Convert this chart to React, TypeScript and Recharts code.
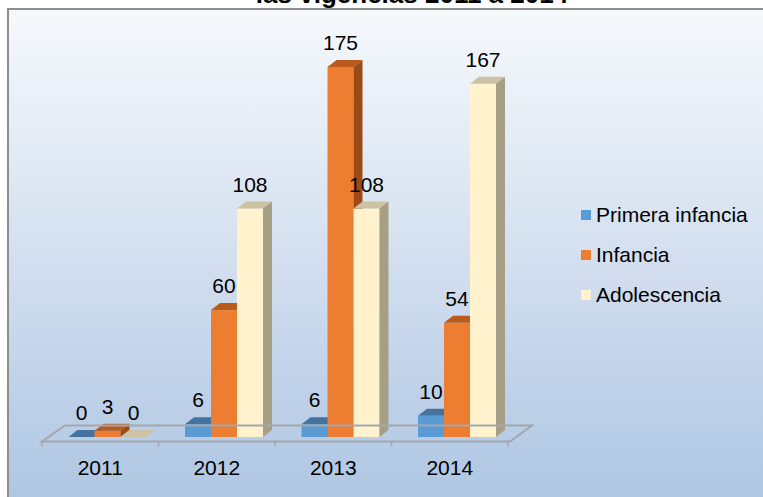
import React from "react";
import {
  BarChart,
  Bar,
  XAxis,
  YAxis,
  LabelList,
  Legend,
  ReferenceLine,
} from "recharts";

const categories = ["2011", "2012", "2013", "2014"];
const primeraInfancia = [0, 6, 6, 10];
const infancia = [3, 60, 175, 54];
const adolescencia = [0, 108, 108, 167];
const seriesNames = ["Primera infancia", "Infancia", "Adolescencia"];

const data = categories.map((year, i) => ({
  year,
  primera: primeraInfancia[i],
  infancia: infancia[i],
  adolescencia: adolescencia[i],
}));

const FONT = "'Liberation Sans', Arial, sans-serif";
const FONT_SIZE = 21;

// front / top / side colours of each 3D bar
const COLORS = {
  primera: { front: "#5B9BD5", top: "#44739F", side: "#3D6990" },
  infancia: { front: "#ED7D31", top: "#BB5A1D", side: "#9C4A18" },
  adolescencia: { front: "#FFF2CC", top: "#CCC3A4", side: "#A69F86" },
};

const SHIFT = 7.5; // perspective offset of the bars on the floor
const DX = 9;
const DY = 7;

const make3DBar = (c: { front: string; top: string; side: string }) => (props: any) => {
  const { x, y, width, height } = props;
  if (x == null || y == null) return <g />;
  const x0 = x + SHIFT;
  const h = Math.max(0, height);
  return (
    <g>
      <rect x={x0} y={y} width={width} height={h} fill={c.front} />
      <polygon
        points={`${x0},${y} ${x0 + DX},${y - DY} ${x0 + width + DX},${y - DY} ${x0 + width},${y}`}
        fill={c.top}
      />
      <polygon
        points={`${x0 + width},${y} ${x0 + width + DX},${y - DY} ${x0 + width + DX},${y + h - DY} ${x0 + width},${y + h}`}
        fill={c.side}
      />
    </g>
  );
};

const ValueLabel = (props: any) => {
  const { x, y, width, value } = props;
  return (
    <text
      x={x + SHIFT + width / 2}
      y={y - 17}
      textAnchor="middle"
      fontSize={FONT_SIZE}
      fontFamily={FONT}
      fill="#000"
    >
      {value}
    </text>
  );
};

const Floor = (props: any) => {
  const { x1, y1, x2 } = props;
  const front = y1 + 4.5;
  const back = front - 16;
  const left = x1;
  const right = x2 + 2;
  const step = (x2 - x1) / categories.length;
  const ticks = Array.from({ length: categories.length + 1 }, (_, i) => x1 + i * step);
  return (
    <g>
      <polygon
        points={`${left},${front} ${left + 23},${back} ${right + 22},${back} ${right},${front}`}
        fill="none"
        stroke="#A3A7AD"
        strokeWidth={2}
      />
      {ticks.map((t, i) => (
        <line key={i} x1={t} y1={front} x2={t} y2={front + 5} stroke="#A3A7AD" strokeWidth={1.5} />
      ))}
    </g>
  );
};

const YearTick = (props: any) => {
  const { x, y, payload } = props;
  return (
    <text x={x} y={y + 38} textAnchor="middle" fontSize={FONT_SIZE} fontFamily={FONT} fill="#000">
      {payload.value}
    </text>
  );
};

const LegendContent = () => {
  const swatches = [COLORS.primera.front, COLORS.infancia.front, COLORS.adolescencia.front];
  return (
    <div style={{ fontFamily: FONT, fontSize: FONT_SIZE, color: "#000", textAlign: "left" }}>
      {seriesNames.map((name, i) => (
        <div key={name} style={{ height: 40, display: "flex", alignItems: "center" }}>
          <span
            style={{ width: 10, height: 10, background: swatches[i], marginRight: 5, display: "inline-block" }}
          />
          <span>{name}</span>
        </div>
      ))}
    </div>
  );
};

export default function App() {
  return (
    <div style={{ position: "absolute", left: 0, top: 0, width: 763, height: 497, overflow: "hidden" }}>
      {/* chart area background */}
      <div
        style={{
          position: "absolute",
          left: 7,
          top: 8,
          width: 770,
          height: 500,
          borderLeft: "2px solid #8E8E8E",
          borderTop: "2px solid #8E8E8E",
          background: "linear-gradient(to bottom, #F6F9FC 0%, #D3DFEF 50%, #ADC5E2 100%)",
        }}
      />
      <div
        style={{
          position: "absolute",
          left: 0,
          width: 824,
          top: -21,
          textAlign: "center",
          fontFamily: FONT,
          fontWeight: "bold",
          fontSize: 26,
          lineHeight: "30px",
          color: "#000",
        }}
      >
        las vigencias 2011 a 2014
      </div>
      <div style={{ position: "absolute", left: 0, top: 0 }}>
        <BarChart
          width={763}
          height={497}
          data={data}
          margin={{ top: 14, right: 255, bottom: 30, left: 42 }}
          barSize={26}
          barGap={0}
        >
          <XAxis
            dataKey="year"
            axisLine={false}
            tickLine={false}
            tickSize={0}
            tickMargin={0}
            height={30}
            tick={<YearTick />}
            interval={0}
          />
          <YAxis hide domain={[0, 200]} />
          <ReferenceLine y={0} shape={(p: any) => <Floor {...p} />} />
          <Legend
            layout="horizontal"
            align="center"
            verticalAlign="middle"
            content={<LegendContent />}
            wrapperStyle={{ left: 581, top: 195, right: "auto", width: 182 }}
          />
          <Bar
            dataKey="primera"
            name={seriesNames[0]}
            fill={COLORS.primera.front}
            shape={make3DBar(COLORS.primera)}
            isAnimationActive={false}
          >
            <LabelList dataKey="primera" content={<ValueLabel />} />
          </Bar>
          <Bar
            dataKey="infancia"
            name={seriesNames[1]}
            fill={COLORS.infancia.front}
            shape={make3DBar(COLORS.infancia)}
            isAnimationActive={false}
          >
            <LabelList dataKey="infancia" content={<ValueLabel />} />
          </Bar>
          <Bar
            dataKey="adolescencia"
            name={seriesNames[2]}
            fill={COLORS.adolescencia.front}
            shape={make3DBar(COLORS.adolescencia)}
            isAnimationActive={false}
          >
            <LabelList dataKey="adolescencia" content={<ValueLabel />} />
          </Bar>
        </BarChart>
      </div>
    </div>
  );
}
